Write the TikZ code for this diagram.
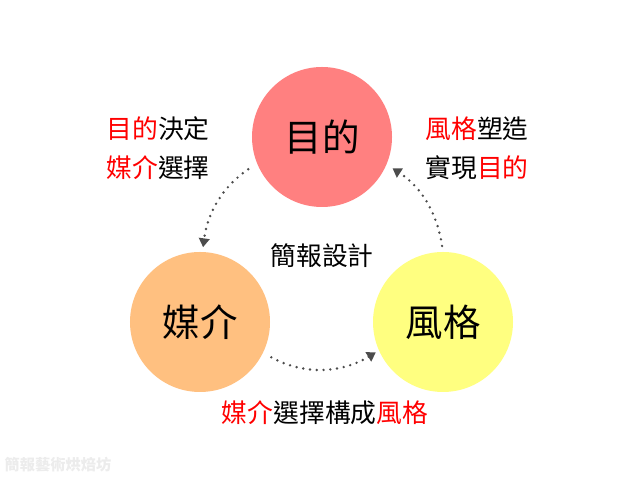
\documentclass[tikz,border=0pt]{standalone}
\usepackage{fontspec}
\newfontfamily\cjk{Noto Sans CJK TC}
\usetikzlibrary{arrows.meta}
\definecolor{goalpink}{RGB}{255,128,128}
\definecolor{mediapeach}{RGB}{255,192,128}
\definecolor{styleyellow}{RGB}{255,255,128}
\definecolor{markgray}{RGB}{236,236,236}
\tikzset{
  topic/.style={circle,minimum size=4.2cm,inner sep=0pt,font=\cjk\fontsize{32}{32}\selectfont},
  note/.style={align=center,font=\cjk\fontsize{22}{33}\selectfont},
  flow/.style={draw=black!70,line width=2.3pt,line cap=round,dash pattern=on 0pt off 5.8pt,
    -{Triangle[length=7.5pt,width=9pt,fill=black!70]}}
}
\newcommand{\hl}[1]{\textcolor{red}{#1}}

\begin{document}
\begin{tikzpicture}[x=0.03cm,y=0.03cm]
\useasboundingbox[fill=white] (0,0) rectangle (640,480);
% the three circles
\node[topic,fill=goalpink] (goal) at (322,343) {目的};
\node[topic,fill=mediapeach] (media) at (200,158) {媒介};
\node[topic,fill=styleyellow] (style) at (443,158) {風格};
% texts
\node[note] (goal_note) at (158,332) {\hl{目的}決定\\\hl{媒介}選擇};
\node[note] (style_note) at (477,332) {\hl{風格}塑造\\實現\hl{目的}};
\node[note] (center) at (322,224) {簡報設計};
\node[note] (bottom) at (325,67) {\hl{媒介}選擇構成\hl{風格}};
\node[font=\cjk\bfseries\fontsize{13}{13}\selectfont,text=markgray] (mark) at (58,15) {簡報藝術烘焙坊};
% dotted arrows
\draw[flow,shorten <=9pt,shorten >=4pt] (goal.202) to[bend right=24] (media.88);
\draw[flow,shorten <=8pt,shorten >=3pt] (media.-26) to[bend right=30] (style.204);
\draw[flow,shorten <=5pt,shorten >=6pt] (style.90) to[bend right=24] (goal.-23);
\end{tikzpicture}
\end{document}
